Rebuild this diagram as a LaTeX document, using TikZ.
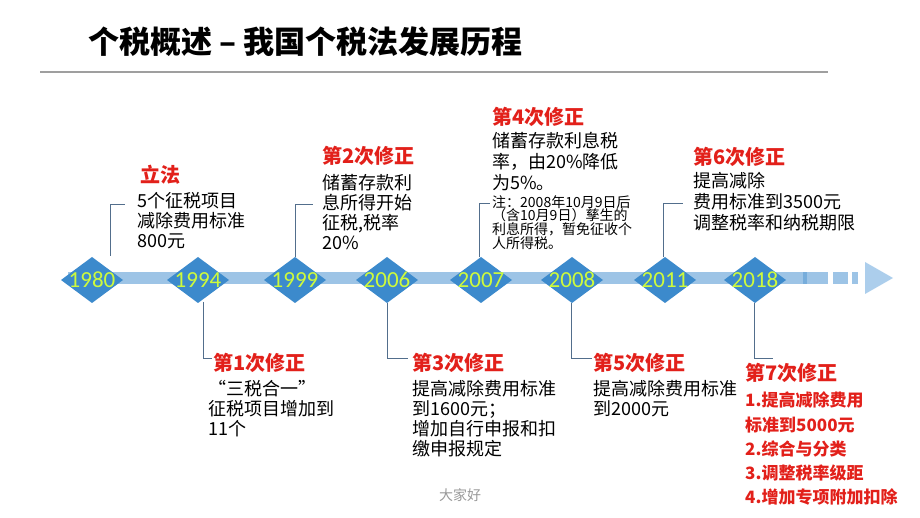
\documentclass[tikz,border=0pt]{standalone}
\usepackage{fontspec}
\setmainfont{Noto Sans CJK SC}
\newfontfamily\yearfont{Carlito}
\definecolor{hdred}{RGB}{226,32,26}
\definecolor{diamblue}{RGB}{60,138,204}
\definecolor{bandblue}{RGB}{157,196,230}
\definecolor{arrowblue}{RGB}{172,206,236}
\definecolor{yeargreen}{RGB}{206,250,60}
\definecolor{connc}{RGB}{82,110,140}
\begin{document}
\begin{tikzpicture}[x=1pt,y=-1pt,
  hd/.style={anchor=west, inner sep=0, text=hdred, font=\fontsize{20}{22}\selectfont\bfseries},
  body/.style={anchor=north west, inner sep=0, align=left, font=\fontsize{18}{20}\selectfont},
  yr/.style={inner sep=0, text=yeargreen, font=\yearfont\fontsize{23}{23}\selectfont},
  diam/.style={fill=diamblue},
  conn/.style={draw=connc, line width=1pt}]
\useasboundingbox (0,0) rectangle (920,518);
% title
\node[anchor=west, inner sep=0, font=\fontsize{31}{31}\selectfont\bfseries] (title) at (88,42) {个税概述 – 我国个税法发展历程};
\draw[gray!75, line width=1.3pt] (40,72) -- (828,72);
% band
\fill[bandblue] (68,272) rectangle (803,284);
\fill[diamblue!70] (803,272) rectangle (807,284);
\fill[bandblue] (807,272) rectangle (828,284);
\fill[bandblue] (833,272) rectangle (848,284);
\fill[bandblue] (852,272) rectangle (858,284);
\fill[arrowblue] (865,262) -- (893,278) -- (865,294) -- cycle;
% diamonds
\foreach \x/\yr in {92/1980,198/1994,295/1999,387/2006,481/2007,572/2008,665/2011,755/2018}{
  \fill[diam] (\x,280) +(-31,0) -- +(0,-23) -- +(31,0) -- +(0,23) -- cycle;
  \node[yr] (y\yr) at (\x,280) {\yr};
}
% connectors top
\coordinate (a1980) at (110,256); \coordinate (b1980) at (125,205);
\coordinate (a1999) at (295,257); \coordinate (b1999) at (313,205);
\coordinate (a2007) at (479,257); \coordinate (b2007) at (490,204);
\coordinate (a2011) at (663,257); \coordinate (b2011) at (683,204);
\draw[conn] (a1980) |- (b1980);
\draw[conn] (a1999) |- (b1999);
\draw[conn] (a2007) |- (b2007);
\draw[conn] (a2011) |- (b2011);
% connectors bottom
\coordinate (a1994) at (203,302); \coordinate (b1994) at (212,358);
\coordinate (a2006) at (387,303); \coordinate (b2006) at (408,358);
\coordinate (a2008) at (571,303); \coordinate (b2008) at (592,358);
\coordinate (a2018) at (754,303); \coordinate (b2018) at (773,358);
\draw[conn] (a1994) |- (b1994);
\draw[conn] (a2006) |- (b2006);
\draw[conn] (a2008) |- (b2008);
\draw[conn] (a2018) |- (b2018);
% 1980
\node[hd] (h1980) at (140,175) {立法};
\node[body] (t1980) at (137,192) {5个征税项目\\减除费用标准\\800元};
% 1999
\node[hd] (h1999) at (322,156) {第2次修正};
\node[body] (t1999) at (322,174) {储蓄存款利\\息所得开始\\征税,税率\\20\%};
% 2007
\node[hd] (h2007) at (492,117) {第4次修正};
\node[body, font=\fontsize{18}{21}\selectfont] (t2007) at (492,132) {储蓄存款利息税\\率，由20\%降低\\为5\%。};
\node[body, font=\fontsize{14}{13.8}\selectfont] (n2007) at (492,195) {注：2008年10月9日后\\（含10月9日）孳生的\\利息所得，暂免征收个\\人所得税。};
% 2011
\node[hd] (h2011) at (693,157) {第6次修正};
\node[body, font=\fontsize{18}{21}\selectfont] (t2011) at (693,172) {提高减除\\费用标准到3500元\\调整税率和纳税期限};
% 1994
\node[hd] (h1994) at (213,363) {第1次修正};
\node[body] (t1994) at (208,380) {“三税合一”\\征税项目增加到\\11个};
% 2006
\node[hd] (h2006) at (412,363) {第3次修正};
\node[body] (t2006) at (412,380) {提高减除费用标准\\到1600元；\\增加自行申报和扣\\缴申报规定};
% 2008
\node[hd] (h2008) at (593,363) {第5次修正};
\node[body] (t2008) at (593,380) {提高减除费用标准\\到2000元};
% 2018
\node[hd] (h2018) at (745,373) {第7次修正};
\node[body, text=hdred, font=\fontsize{17}{24.2}\selectfont\bfseries] (t2018) at (745,392) {1.提高减除费用\\标准到5000元\\2.综合与分类\\3.调整税率级距\\4.增加专项附加扣除};
% footer
\node[inner sep=0, text=gray!80, font=\fontsize{14}{14}\selectfont] (foot) at (460,495) {大家好};
\end{tikzpicture}
\end{document}
